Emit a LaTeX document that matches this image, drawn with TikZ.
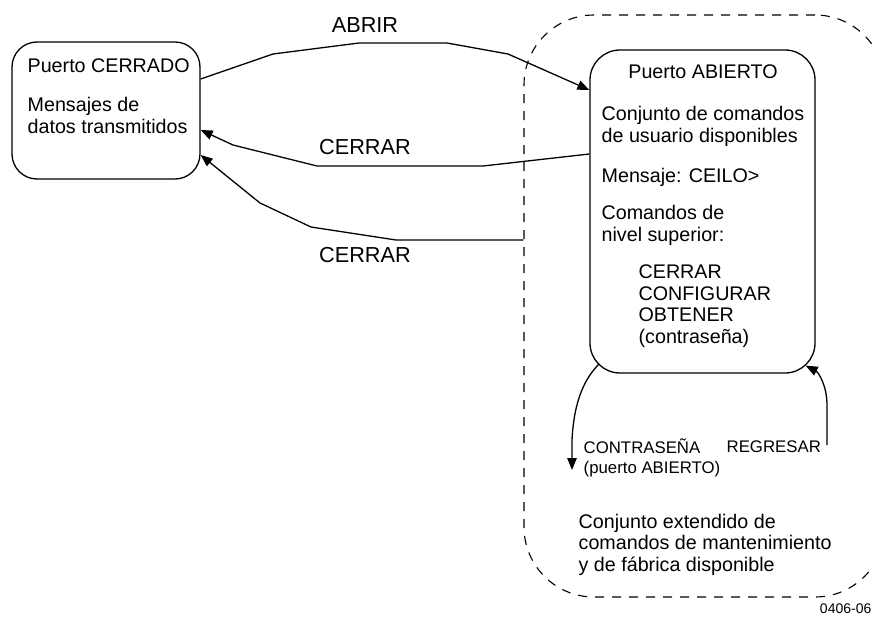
\documentclass[tikz,border=0pt]{standalone}
\usepackage{fontspec}
\setmainfont{Liberation Sans}
\usetikzlibrary{arrows.meta}

\begin{document}
\begin{tikzpicture}[x=1pt, y=-1pt, line width=1.3pt,
    >={Triangle[length=12pt,width=9.5pt]},
    caja/.style={draw, rounded corners=#1, inner sep=0pt},
    texto/.style={font=\fontsize{19.7}{21.5}\selectfont, align=left, inner sep=0pt, anchor=base west},
    etiq/.style={font=\fontsize{21.7}{24}\selectfont, inner sep=0pt, anchor=base},
    chico/.style={font=\fontsize{16.8}{20}\selectfont, align=left, inner sep=0pt, anchor=base west}]
    \clip (0,0) rectangle (873,626);
    % Cajas
    \node[caja=25pt, minimum width=188pt, minimum height=137pt] (cerrado) at (106,110.5) {};
    \node[caja=30pt, minimum width=225pt, minimum height=323pt] (abierto) at (702.5,211.5) {};
    \node[caja=70pt, line width=1.1pt, dash pattern=on 9pt off 8pt, minimum width=361pt, minimum height=582pt] (mant) at (704.5,306) {};
    % Textos de las cajas (base = ultima linea)
    \node[texto] (tcerrado) at (27,73) {Puerto CERRADO};
    \node[texto] (tmensajes) at (27,133) {Mensajes de\\datos transmitidos};
    \node[texto, anchor=base] (tabierto) at (703,78) {Puerto ABIERTO};
    \node[texto] (tconjunto) at (601,142) {Conjunto de comandos\\de usuario disponibles};
    \node[texto] (tmensaje) at (601,182) {Mensaje: CEILO>};
    \node[texto] (tcomandos) at (601,241) {Comandos de\\nivel superior:};
    \node[texto] (tlista) at (638,343) {CERRAR\\CONFIGURAR\\OBTENER\\(contraseña)};
    \node[texto] (textendido) at (578,571) {Conjunto extendido de\\comandos de mantenimiento\\y de fábrica disponible};
    \node[chico] (tcontra) at (583,473) {CONTRASEÑA\\(puerto ABIERTO)};
    \node[chico] (tregresar) at (726,452) {REGRESAR};
    \node[font=\fontsize{14}{16}\selectfont, inner sep=0pt, anchor=base east] (tcodigo) at (872,613) {0406-06};
    % Transiciones
    \node[etiq] (labrir) at (365,33) {ABRIR};
    \node[etiq] (lcerrar) at (365,154) {CERRAR};
    \node[etiq] (lcerrarb) at (365,262) {CERRAR};
    \draw[->] ([yshift=31.5pt]cerrado.east) -- (273,54) -- (359,43) -- (447,43) -- (508,54) -- ([yshift=121.5pt]abierto.west);
    \draw[->] ([yshift=57.5pt]abierto.west) -- (483,166) -- (317,166) -- (233,145) -- ([yshift=-19.5pt]cerrado.east);
    \draw[->] ([yshift=66pt]mant.west) -- (396,240) -- (311,227) -- (260,203) -- ([yshift=-44.5pt]cerrado.east);
    % Contrasena y regreso
    \coordinate (pw) at (572,470);
    \coordinate (pr) at (827,445);
    \draw[->] ([shift={(10pt,10pt)}]abierto.south west) .. controls (585,378) and (574,400) .. (572,440) -- (pw);
    \draw[->] (pr) -- (827,405) .. controls (827,385) and (818,372) .. ([shift={(-10pt,8pt)}]abierto.south east);
\end{tikzpicture}
\end{document}
